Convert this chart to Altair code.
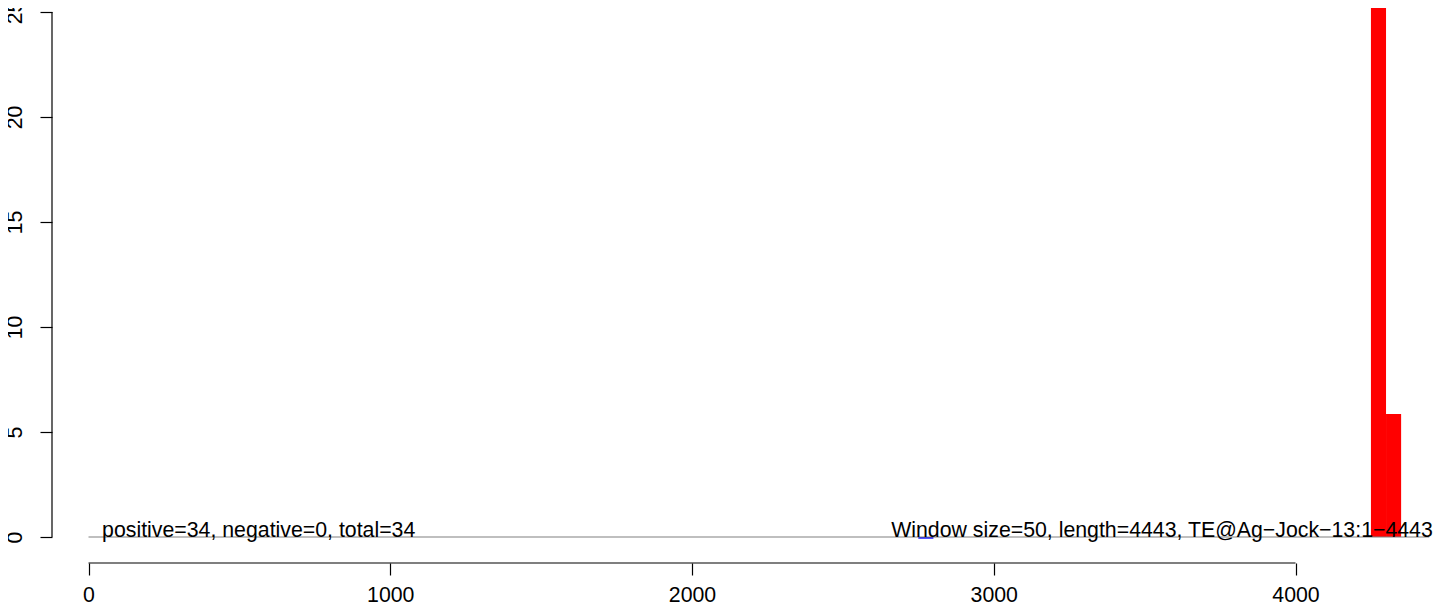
import altair as alt
import pandas as pd

# ---- data ----
win_start = [2750, 4250, 4300]
win_end = [2800, 4300, 4350]
win_value = [-0.08, 28.14, 5.86]
win_sign = ["negative", "positive", "positive"]

x_ticks = [0, 1000, 2000, 3000, 4000]
y_ticks = [0, 5, 10, 15, 20, 25]
seq_length = 4443
left_label = "positive=34, negative=0, total=34"
right_label = "Window size=50, length=4443, TE@Ag\u2212Jock\u221213:1\u22124443"

# ---- layout constants ----
X_DOM = [-121, 4465.6]
Y_DOM = [-1.238, 25.19]
FONT = "Liberation Sans"
FS = 21.3
W, H = 1384, 555

xs = alt.Scale(domain=X_DOM, nice=False, zero=False)
ys = alt.Scale(domain=Y_DOM, nice=False, zero=False)

x_axis = alt.Axis(values=x_ticks, title=None, domain=False, grid=False,
                  tickSize=12, tickColor="black", tickWidth=1.2,
                  labelFontSize=FS, labelFont=FONT, labelColor="black",
                  labelPadding=9, labelBaseline="top", labelAlign="center",
                  labelFlush=False, labelOverlap=False, labelBound=False,
                  format="d")
y_axis = alt.Axis(values=y_ticks, title=None, domain=False, grid=False,
                  tickSize=12, tickColor="black", tickWidth=1.2,
                  labelFontSize=FS, labelFont=FONT, labelColor="black",
                  labelPadding=19, labelAngle=270, labelAlign="center",
                  labelBaseline="alphabetic", labelFlush=False,
                  labelOverlap=False, labelBound=False, format="d")


def X(field):
    return alt.X(field, scale=xs, axis=x_axis)


def Y(field):
    return alt.Y(field, scale=ys, axis=y_axis)


bars_df = pd.DataFrame({"start": win_start, "end": win_end,
                        "value": win_value, "sign": win_sign})
bars = alt.Chart(bars_df).mark_rect(clip=True).encode(
    x=X("start:Q"),
    x2="end:Q",
    y=Y("value:Q"),
    y2=alt.datum(0),
    color=alt.Color("sign:N", scale=alt.Scale(domain=["positive", "negative"],
                                              range=["#ff0000", "#0000ff"]),
                    legend=None),
)

zero_df = pd.DataFrame({"x": [0], "x2": [seq_length], "y": [0]})
zero_line = alt.Chart(zero_df).mark_rule(color="#808080", strokeWidth=1.2).encode(
    x=X("x:Q"), x2="x2:Q", y=Y("y:Q"),
)

xdom_df = pd.DataFrame({"x": [x_ticks[0]], "x2": [x_ticks[-1]], "y": [Y_DOM[0]]})
x_domain = alt.Chart(xdom_df).mark_rule(color="black", strokeWidth=1.2).encode(
    x=X("x:Q"), x2="x2:Q", y=Y("y:Q"),
)

ydom_df = pd.DataFrame({"y": [y_ticks[0]], "y2": [y_ticks[-1]], "x": [X_DOM[0]]})
y_domain = alt.Chart(ydom_df).mark_rule(color="black", strokeWidth=1.2).encode(
    y=Y("y:Q"), y2="y2:Q", x=X("x:Q"),
)

ltxt_df = pd.DataFrame({"x": [45], "y": [0], "t": [left_label]})
left_text = alt.Chart(ltxt_df).mark_text(
    align="left", baseline="alphabetic", fontSize=FS, font=FONT, color="black"
).encode(x=X("x:Q"), y=Y("y:Q"), text="t:N")

rtxt_df = pd.DataFrame({"x": [4455], "y": [0], "t": [right_label]})
right_text = alt.Chart(rtxt_df).mark_text(
    align="right", baseline="alphabetic", fontSize=FS, font=FONT, color="black"
).encode(x=X("x:Q"), y=Y("y:Q"), text="t:N")

chart = alt.layer(bars, zero_line, x_domain, y_domain, left_text, right_text).properties(
    width=W, height=H,
    autosize=alt.AutoSizeParams(type="none"),
    padding={"left": 44, "top": 0, "right": 0, "bottom": 42},
    background="white",
).configure_view(stroke=None)

chart.save("out.html", embed_options={"renderer": "svg", "actions": False})
